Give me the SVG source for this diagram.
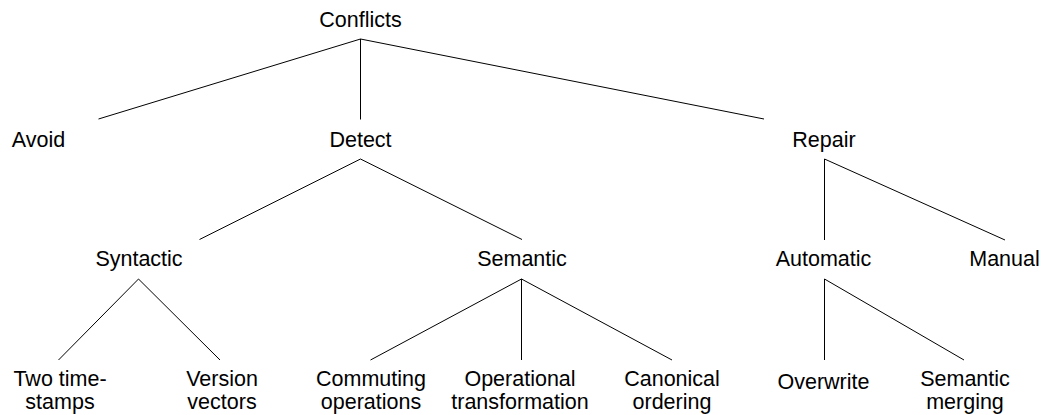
<svg xmlns="http://www.w3.org/2000/svg" width="1045" height="415" viewBox="0 0 1045 415">
  <style>
    .lbl { font-family: "Liberation Sans", Arial, Helvetica, sans-serif; font-size: 21.5px; fill: #000; text-anchor: middle; }
    .edge { stroke: #000; stroke-width: 1; fill: none; }
  </style>
  <rect width="1045" height="415" fill="#fff"/>

  <!-- tree edges -->
  <g id="connectors">
    <line class="edge" x1="360.5" y1="39" x2="98.5" y2="119"/>
    <line class="edge" x1="360.5" y1="39" x2="360.5" y2="119.5"/>
    <line class="edge" x1="360.5" y1="39" x2="764" y2="119"/>

    <line class="edge" x1="360.5" y1="159" x2="199.5" y2="239.5"/>
    <line class="edge" x1="360.5" y1="159" x2="522" y2="239.5"/>

    <line class="edge" x1="824.5" y1="159" x2="824.5" y2="240"/>
    <line class="edge" x1="824.5" y1="159" x2="1005" y2="240"/>

    <line class="edge" x1="138.5" y1="279" x2="58.5" y2="360"/>
    <line class="edge" x1="138.5" y1="279" x2="220" y2="360"/>

    <line class="edge" x1="521.5" y1="279" x2="370.5" y2="360"/>
    <line class="edge" x1="521.5" y1="279" x2="521.5" y2="360"/>
    <line class="edge" x1="521.5" y1="279" x2="672" y2="360"/>

    <line class="edge" x1="824.5" y1="279" x2="824.5" y2="360"/>
    <line class="edge" x1="824.5" y1="279" x2="964" y2="360"/>
  </g>

  <!-- root -->
  <g id="conflicts"><text class="lbl" x="360.5" y="26.5">Conflicts</text></g>

  <!-- level 1 -->
  <g id="avoid"><text class="lbl" x="38.5" y="147">Avoid</text></g>
  <g id="detect"><text class="lbl" x="360.5" y="147">Detect</text></g>
  <g id="repair"><text class="lbl" x="824" y="147">Repair</text></g>

  <!-- level 2 -->
  <g id="syntactic"><text class="lbl" x="139" y="266">Syntactic</text></g>
  <g id="semantic"><text class="lbl" x="522" y="266">Semantic</text></g>
  <g id="automatic"><text class="lbl" x="823.5" y="266">Automatic</text></g>
  <g id="manual"><text class="lbl" x="1004.5" y="266">Manual</text></g>

  <!-- leaves -->
  <g id="two-timestamps">
    <text class="lbl" x="60" y="385.5">Two time-</text>
    <text class="lbl" x="60" y="409">stamps</text>
  </g>
  <g id="version-vectors">
    <text class="lbl" x="222" y="385.5">Version</text>
    <text class="lbl" x="222" y="409">vectors</text>
  </g>
  <g id="commuting-operations">
    <text class="lbl" x="371" y="385.5">Commuting</text>
    <text class="lbl" x="371" y="409">operations</text>
  </g>
  <g id="operational-transformation">
    <text class="lbl" x="520" y="385.5">Operational</text>
    <text class="lbl" x="520" y="409">transformation</text>
  </g>
  <g id="canonical-ordering">
    <text class="lbl" x="672" y="385.5">Canonical</text>
    <text class="lbl" x="672" y="409">ordering</text>
  </g>
  <g id="overwrite"><text class="lbl" x="823.5" y="388.5">Overwrite</text></g>
  <g id="semantic-merging">
    <text class="lbl" x="965" y="385.5">Semantic</text>
    <text class="lbl" x="965" y="409">merging</text>
  </g>
</svg>
